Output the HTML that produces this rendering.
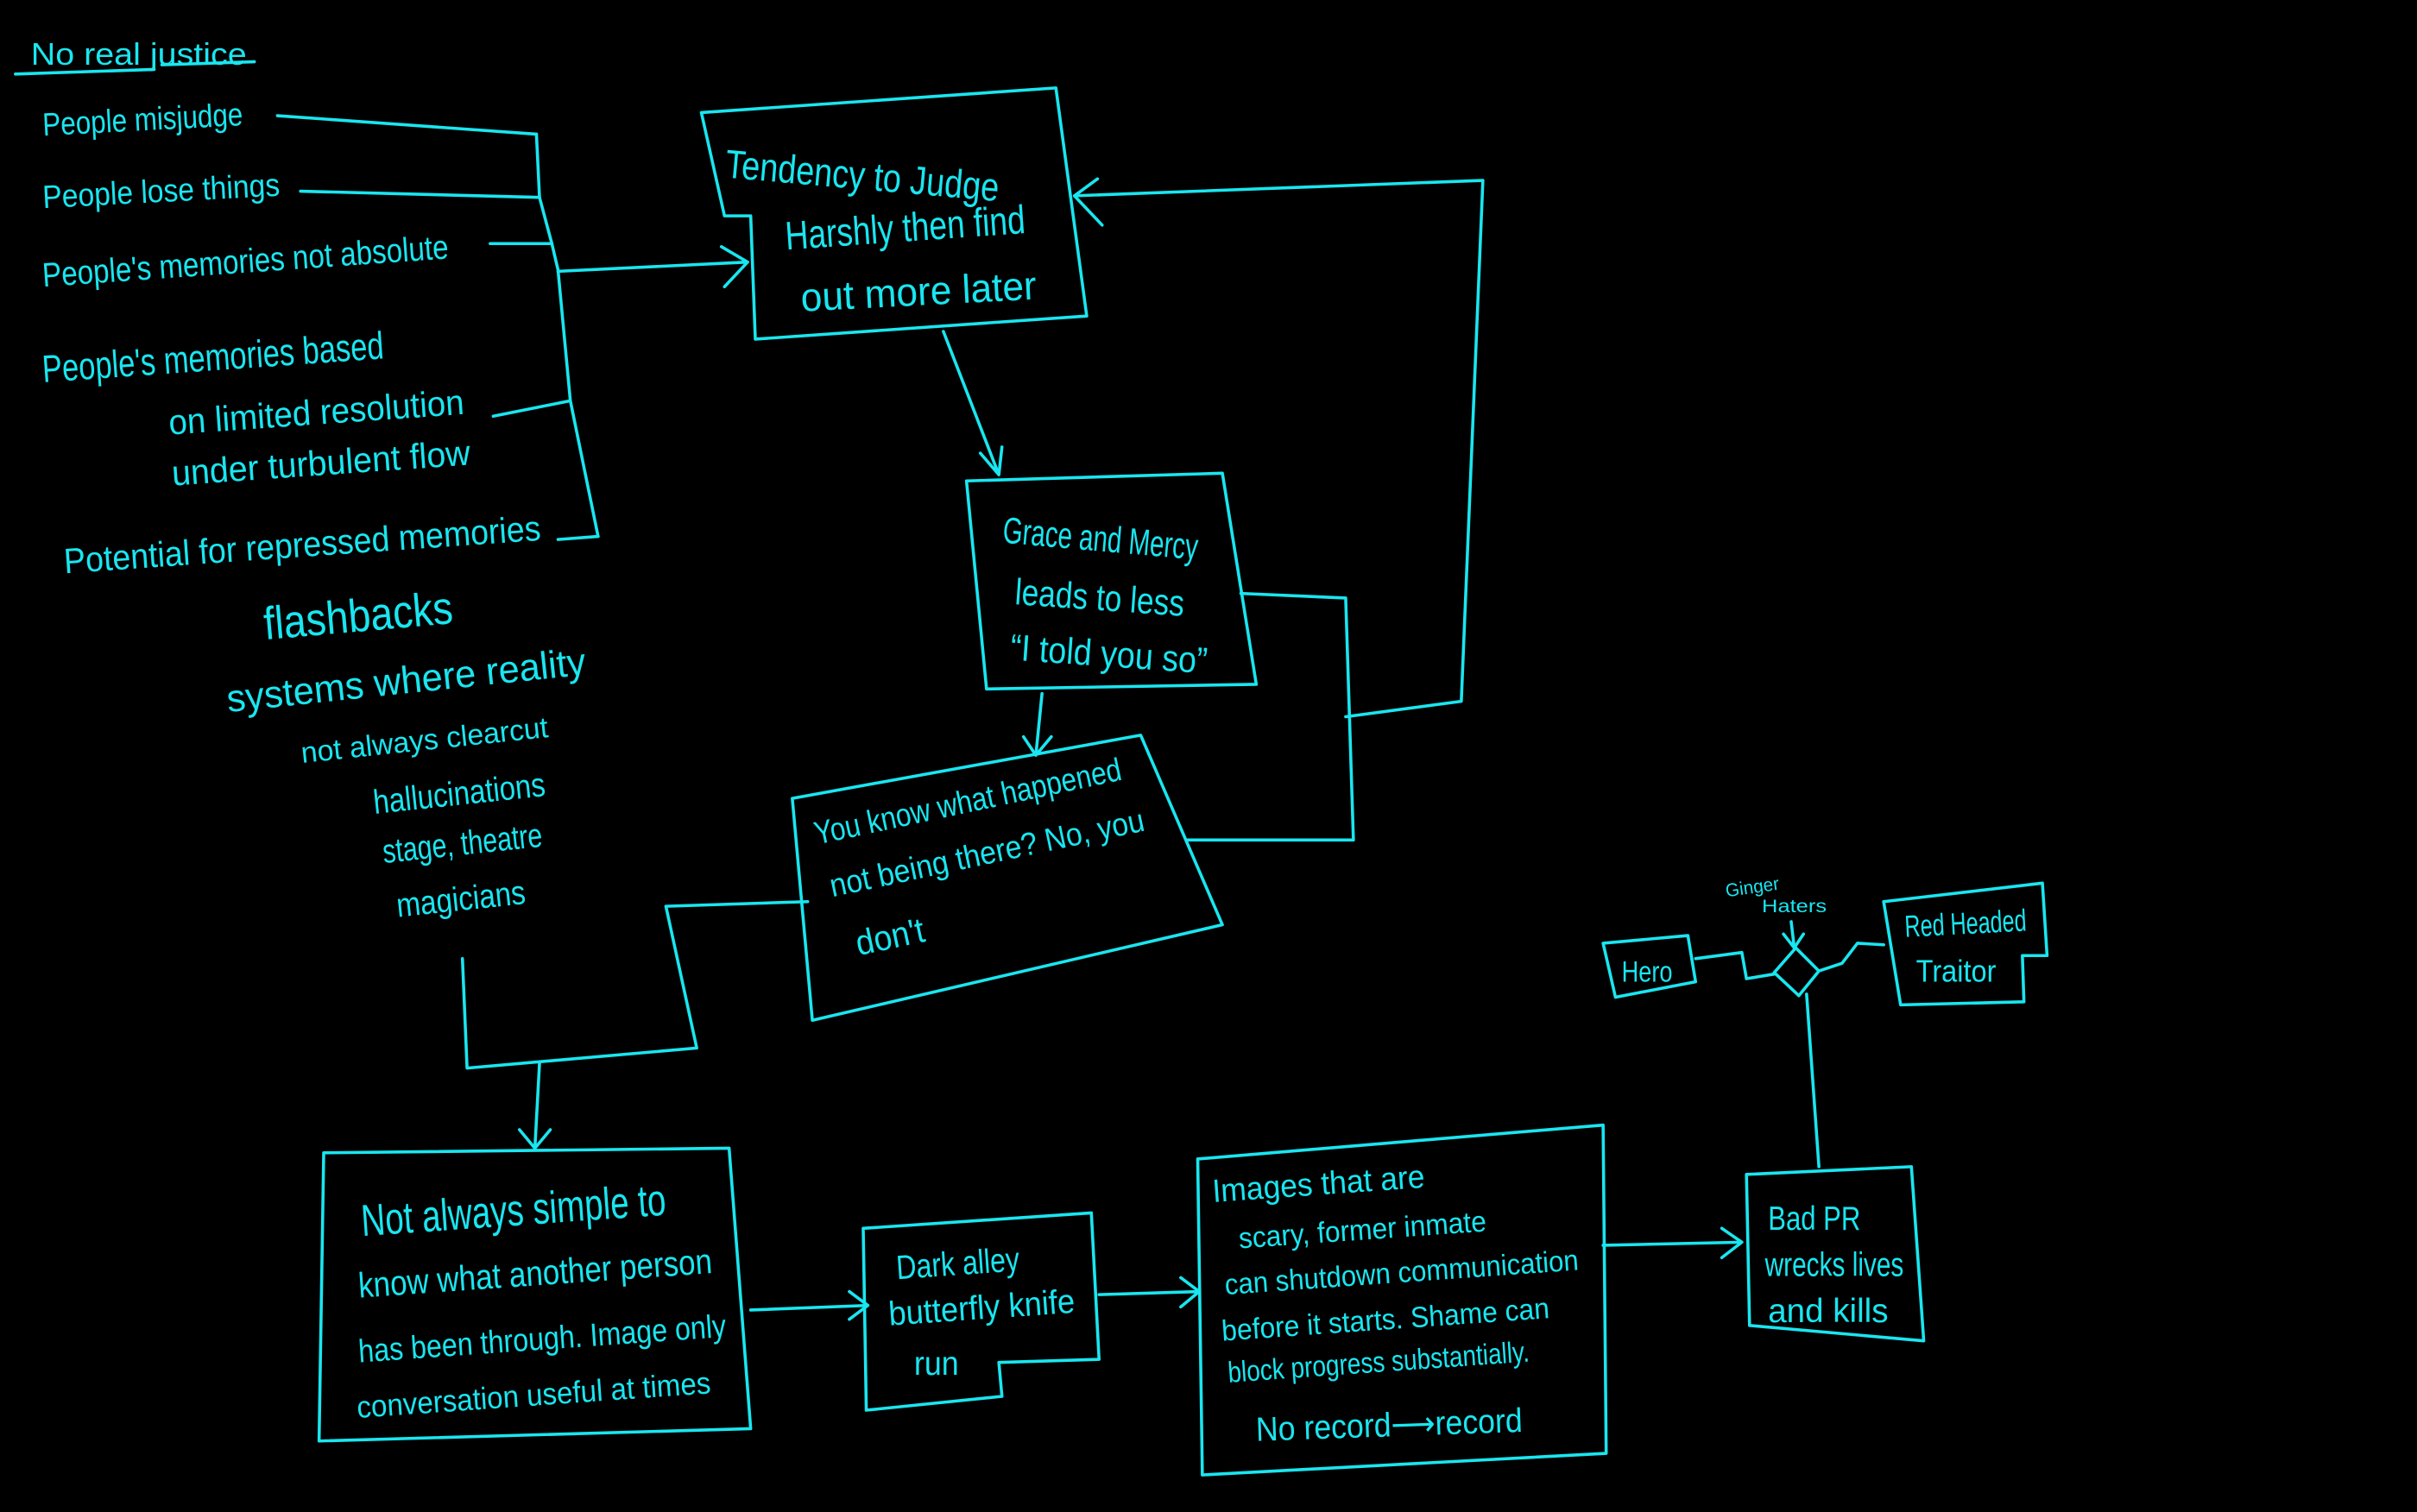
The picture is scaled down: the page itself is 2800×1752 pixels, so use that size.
<!DOCTYPE html>
<html><head><meta charset="utf-8"><style>
html,body{margin:0;padding:0;background:#000;}
svg{display:block;}
text{fill:#19e6f0;font-family:"Liberation Sans",sans-serif;}
.l{fill:none;stroke:#19e6f0;stroke-width:2;stroke-linejoin:round;stroke-linecap:round;}
</style></head><body>
<svg width="2800" height="1752" viewBox="0 0 1568 981" xmlns="http://www.w3.org/2000/svg">
<rect width="1568" height="981" fill="#000"/>
<g>
<text x="20" y="42" font-size="20" textLength="140" lengthAdjust="spacingAndGlyphs">No  real  justice</text>
<path class="l" d="M10 48 L100 45 M105 42 L165 40"/>
<text x="28" y="88" font-size="21" transform="rotate(-3 28 88)" textLength="130" lengthAdjust="spacingAndGlyphs">People  misjudge</text>
<path class="l" d="M180 75 L348 87"/>
<text x="28" y="135" font-size="21" transform="rotate(-3 28 135)" textLength="154" lengthAdjust="spacingAndGlyphs">People  lose things</text>
<path class="l" d="M195 124 L350 128"/>
<text x="28" y="186" font-size="22" transform="rotate(-4 28 186)" textLength="264" lengthAdjust="spacingAndGlyphs">People's memories  not  absolute</text>
<path class="l" d="M318 158 L358 158"/>
<text x="28" y="248" font-size="25" transform="rotate(-4 28 248)" textLength="222" lengthAdjust="spacingAndGlyphs">People's  memories  based</text>
<text x="110" y="282" font-size="23" transform="rotate(-4 110 282)" textLength="192" lengthAdjust="spacingAndGlyphs">on limited  resolution</text>
<text x="112" y="315" font-size="23" transform="rotate(-4 112 315)" textLength="194" lengthAdjust="spacingAndGlyphs">under turbulent  flow</text>
<path class="l" d="M320 270 L370 260"/>
<text x="42" y="372" font-size="23" transform="rotate(-4 42 372)" textLength="310" lengthAdjust="spacingAndGlyphs">Potential   for repressed  memories</text>
<path class="l" d="M362 350 L388 348"/>
<path class="l" d="M348 87 L350 128 L358 158 L362 175 L370 260 L388 348"/>
<path class="l" d="M362 176 L485 170 M468 160 L485 170 L470 186"/>
<text x="172" y="415" font-size="30" transform="rotate(-5 172 415)" textLength="123" lengthAdjust="spacingAndGlyphs">flashbacks</text>
<text x="148" y="462" font-size="25" transform="rotate(-6 148 462)" textLength="234" lengthAdjust="spacingAndGlyphs">systems  where  reality</text>
<text x="196" y="495" font-size="19" transform="rotate(-6 196 495)" textLength="161" lengthAdjust="spacingAndGlyphs">not   always  clearcut</text>
<text x="243" y="528" font-size="22" transform="rotate(-6 243 528)" textLength="112" lengthAdjust="spacingAndGlyphs">hallucinations</text>
<text x="249" y="560" font-size="22" transform="rotate(-6 249 560)" textLength="104" lengthAdjust="spacingAndGlyphs">stage, theatre</text>
<text x="258" y="595" font-size="22" transform="rotate(-6 258 595)" textLength="84" lengthAdjust="spacingAndGlyphs">magicians</text>
<path class="l" d="M300 622 L303 693 L452 680 L432 588 L524 585"/>
<path class="l" d="M350 690 L347 745 M337 733 L347 745 L357 733"/>
<path class="l" d="M455 73 L685 57 L705 205 L490 220 L487 140 L470 140 Z"/>
<text x="470" y="115" font-size="26" transform="rotate(5 470 115)" textLength="178" lengthAdjust="spacingAndGlyphs">Tendency  to  Judge</text>
<text x="510" y="162" font-size="26" transform="rotate(-4 510 162)" textLength="156" lengthAdjust="spacingAndGlyphs">Harshly then  find</text>
<text x="520" y="202" font-size="26" transform="rotate(-3 520 202)" textLength="153" lengthAdjust="spacingAndGlyphs">out  more  later</text>
<path class="l" d="M612 215 L648 308 M636 294 L648 308 L650 290"/>
<path class="l" d="M627 312 L793 307 L815 444 L640 447 Z"/>
<text x="650" y="352" font-size="24" transform="rotate(5 650 352)" textLength="127" lengthAdjust="spacingAndGlyphs">Grace  and  Mercy</text>
<text x="658" y="392" font-size="24" transform="rotate(4 658 392)" textLength="110" lengthAdjust="spacingAndGlyphs">leads  to  less</text>
<text x="655" y="428" font-size="24" transform="rotate(4 655 428)" textLength="128" lengthAdjust="spacingAndGlyphs">“I told  you so”</text>
<path class="l" d="M805 385 L873 388 L878 545 L770 545"/>
<path class="l" d="M873 465 L948 455 L962 117 L697 127 M712 116 L697 127 L715 146"/>
<path class="l" d="M676 450 L672 490 M664 478 L672 490 L682 478"/>
<path class="l" d="M514 518 L740 477 L793 600 L527 662 Z"/>
<text x="530" y="548" font-size="21" transform="rotate(-12 530 548)" textLength="203" lengthAdjust="spacingAndGlyphs">You know  what  happened</text>
<text x="540" y="582" font-size="21" transform="rotate(-12 540 582)" textLength="208" lengthAdjust="spacingAndGlyphs">not  being  there?  No, you</text>
<text x="557" y="620" font-size="23" transform="rotate(-12 557 620)" textLength="45" lengthAdjust="spacingAndGlyphs">don't</text>
<path class="l" d="M210 748 L473 745 L487 927 L207 935 Z"/>
<text x="235" y="802" font-size="29" transform="rotate(-4 235 802)" textLength="198" lengthAdjust="spacingAndGlyphs">Not  always  simple  to</text>
<text x="233" y="842" font-size="23" transform="rotate(-4 233 842)" textLength="230" lengthAdjust="spacingAndGlyphs">know  what  another  person</text>
<text x="233" y="884" font-size="21" transform="rotate(-4 233 884)" textLength="239" lengthAdjust="spacingAndGlyphs">has been  through.  Image  only</text>
<text x="232" y="920" font-size="20" transform="rotate(-4 232 920)" textLength="230" lengthAdjust="spacingAndGlyphs">conversation  useful  at  times</text>
<path class="l" d="M487 850 L563 847 M551 838 L563 847 L551 856"/>
<path class="l" d="M560 797 L708 787 L713 882 L648 884 L650 906 L562 915 Z"/>
<text x="582" y="830" font-size="22" transform="rotate(-4 582 830)" textLength="80" lengthAdjust="spacingAndGlyphs">Dark  alley</text>
<text x="577" y="860" font-size="22" transform="rotate(-4 577 860)" textLength="121" lengthAdjust="spacingAndGlyphs">butterfly  knife</text>
<text x="593" y="892" font-size="22" textLength="29" lengthAdjust="spacingAndGlyphs">run</text>
<path class="l" d="M713 840 L778 838 M766 829 L778 838 L766 848"/>
<path class="l" d="M777 752 L1040 730 L1042 943 L780 957 Z"/>
<text x="787" y="780" font-size="21" transform="rotate(-4 787 780)" textLength="138" lengthAdjust="spacingAndGlyphs">Images  that  are</text>
<text x="804" y="810" font-size="19" transform="rotate(-4 804 810)" textLength="161" lengthAdjust="spacingAndGlyphs">scary,  former  inmate</text>
<text x="795" y="840" font-size="19" transform="rotate(-4 795 840)" textLength="230" lengthAdjust="spacingAndGlyphs">can  shutdown  communication</text>
<text x="793" y="870" font-size="19" transform="rotate(-4 793 870)" textLength="213" lengthAdjust="spacingAndGlyphs">before  it  starts.  Shame  can</text>
<text x="797" y="897" font-size="19" transform="rotate(-4 797 897)" textLength="196" lengthAdjust="spacingAndGlyphs">block  progress  substantially.</text>
<text x="815" y="935" font-size="22" transform="rotate(-2 815 935)" textLength="173" lengthAdjust="spacingAndGlyphs">No  record⟶record</text>
<path class="l" d="M1040 808 L1130 806 M1117 797 L1130 806 L1117 816"/>
<path class="l" d="M1133 762 L1240 757 L1248 870 L1135 860 Z"/>
<text x="1147" y="798" font-size="22" textLength="60" lengthAdjust="spacingAndGlyphs">Bad  PR</text>
<text x="1145" y="828" font-size="22" textLength="90" lengthAdjust="spacingAndGlyphs">wrecks lives</text>
<text x="1147" y="858" font-size="22" textLength="78" lengthAdjust="spacingAndGlyphs">and  kills</text>
<path class="l" d="M1180 757 L1172 645"/>
<path class="l" d="M1165 615 L1180 630 L1167 646 L1151 631 Z"/>
<path class="l" d="M1040 612 L1095 607 L1100 637 L1048 647 Z"/>
<text x="1052" y="637" font-size="19" textLength="33" lengthAdjust="spacingAndGlyphs">Hero</text>
<path class="l" d="M1100 622 L1130 618 L1133 635 L1151 632"/>
<path class="l" d="M1180 630 L1195 625 L1205 612 L1222 613"/>
<path class="l" d="M1222 585 L1325 573 L1328 620 L1312 620 L1313 650 L1233 652 Z"/>
<text x="1236" y="608" font-size="20" transform="rotate(-3 1236 608)" textLength="79" lengthAdjust="spacingAndGlyphs">Red Headed</text>
<text x="1243" y="637" font-size="20" textLength="52" lengthAdjust="spacingAndGlyphs">Traitor</text>
<text x="1120" y="582" font-size="12" transform="rotate(-8 1120 582)" textLength="35" lengthAdjust="spacingAndGlyphs">Ginger</text>
<text x="1143" y="592" font-size="12" textLength="42" lengthAdjust="spacingAndGlyphs">Haters</text>
<path class="l" d="M1162 598 L1164 615 M1157 606 L1164 615 L1170 606"/>
</g>
</svg>
</body></html>
